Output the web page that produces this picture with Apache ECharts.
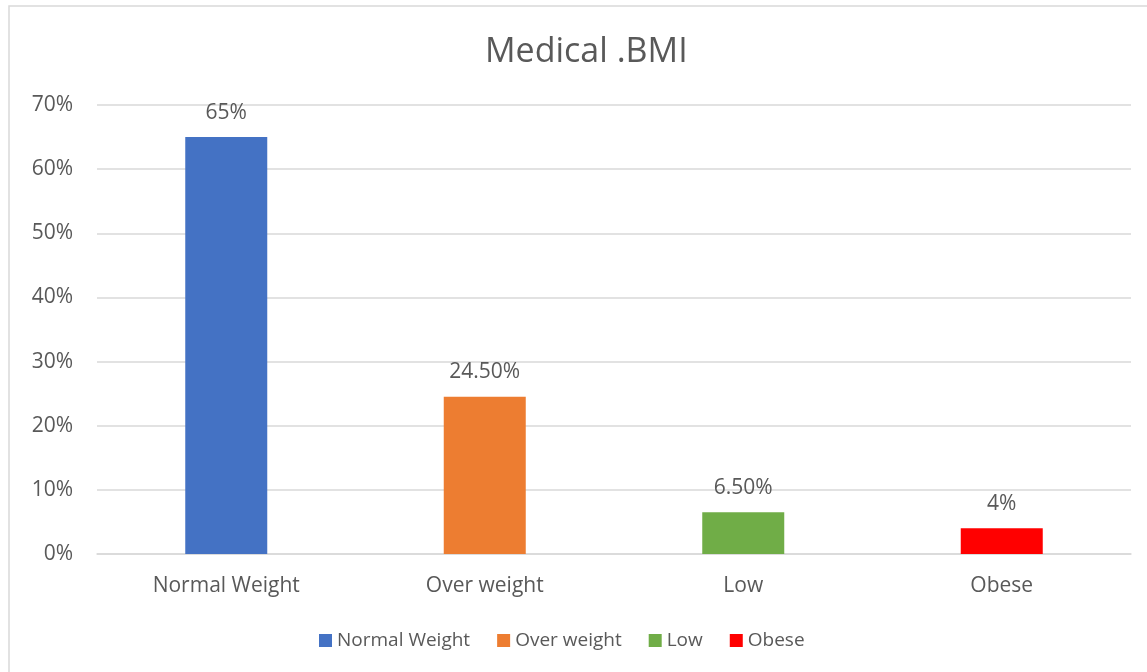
<!DOCTYPE html>
<html><head><meta charset="utf-8">
<script src="https://cdn.jsdelivr.net/npm/echarts@6/dist/echarts.min.js"></script>
<style>html,body{margin:0;padding:0;background:#fff}#c{width:1147px;height:672px}</style>
</head><body><div id="c"></div>
<script>
const categories = ['Normal Weight', 'Over weight', 'Low', 'Obese'];
const values = [65, 24.5, 6.5, 4];
const valueLabels = ['65%', '24.50%', '6.50%', '4%'];
const colors = ['#4472C4', '#ED7D31', '#70AD47', '#FF0000'];
const yTicks = [0, 10, 20, 30, 40, 50, 60, 70];

const FONT = 'Open Sans';
const TXT = '#595959';
const FS = 21;
const chart = echarts.init(document.getElementById('c'), null, {renderer: 'canvas'});
const series = categories.map((name, i) => ({
  name: name,
  type: 'bar',
  stack: 'all',
  barWidth: 82,
  itemStyle: {color: colors[i]},
  data: categories.map((c, j) => j === i ? values[i] : null),
  label: {
    show: true, position: 'top', distance: 14,
    color: TXT, fontFamily: FONT, fontSize: FS,
    formatter: () => valueLabels[i]
  }
}));
chart.setOption({
  animation: false,
  title: {
    text: 'Medical .BMI', left: 480, top: 30,
    textStyle: {color: TXT, fontFamily: FONT, fontSize: 34, fontWeight: 'normal'}
  },
  legend: {
    bottom: 17, left: 314, itemWidth: 13, itemHeight: 13, itemGap: 27,
    icon: 'rect',
    textStyle: {color: TXT, fontFamily: FONT, fontSize: 19},
    data: categories
  },
  grid: {left: 97, right: 16, top: 105, bottom: 118},
  xAxis: {
    type: 'category', data: categories,
    axisLine: {show: true, lineStyle: {color: '#D9D9D9', width: 1.5}},
    axisTick: {show: false},
    axisLabel: {color: TXT, fontFamily: FONT, fontSize: FS, margin: 22}
  },
  yAxis: {
    type: 'value', min: yTicks[0], max: yTicks[yTicks.length - 1], interval: 10,
    axisLine: {show: false}, axisTick: {show: false},
    splitLine: {lineStyle: {color: '#D9D9D9', width: 1.5}},
    axisLabel: {color: TXT, fontFamily: FONT, fontSize: FS, margin: 24, formatter: v => v + '%'}
  },
  graphic: [{
    type: 'rect', shape: {x: 9, y: 6, width: 1160, height: 700},
    style: {fill: 'none', stroke: '#D9D9D9', lineWidth: 1.5}, silent: true, z: -1
  }],
  series: series
});
</script></body></html>
